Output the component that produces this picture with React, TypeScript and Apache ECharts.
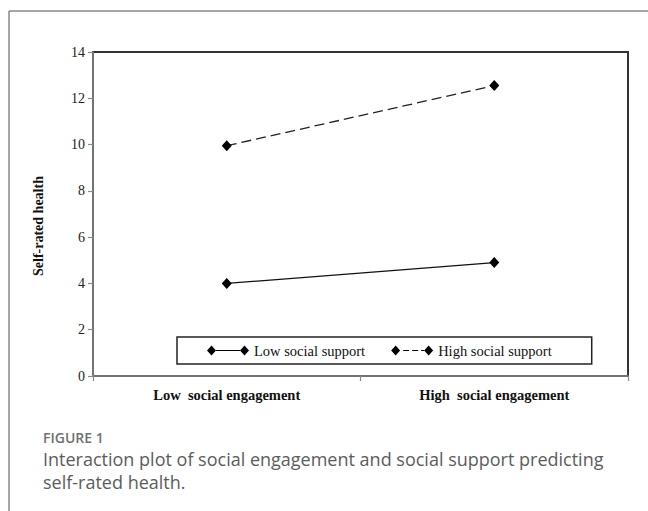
import React, { useEffect, useRef } from "react";
import * as echarts from "echarts";

const categories = ["Low  social engagement", "High  social engagement"];
const lowSupport = [4.0, 4.9];
const highSupport = [9.95, 12.55];
const yTicks = { min: 0, max: 14, interval: 2 };
const seriesNames = ["Low social support", "High social support"];
const yAxisTitle = "Self-rated health";
const figureLabel = "FIGURE 1";
const captionLines = [
  "Interaction plot of social engagement and social support predicting",
  "self-rated health.",
];

const SERIF = "'Liberation Serif', 'Times New Roman', serif";
const SANS = "'Open Sans', 'Noto Sans', sans-serif";

const solidIcon =
  "path://M0 5L4.5 0L9 5L4.5 10Z M33 5L37.5 0L42 5L37.5 10Z M9 4.4H33V5.6H9Z";
const dashedIcon =
  "path://M0 5L4.5 0L9 5L4.5 10Z M33 5L37.5 0L42 5L37.5 10Z M12 4.4H18V5.6H12Z M21 4.4H27V5.6H21Z M30 4.4H33V5.6H30Z";

export default function App() {
  const ref = useRef<HTMLDivElement>(null);
  useEffect(() => {
    if (!ref.current) return;
    const chart = echarts.init(ref.current, undefined, { renderer: "svg" });
    chart.setOption({
      animation: false,
      backgroundColor: "#ffffff",
      grid: {
        left: 93,
        right: 20,
        top: 52,
        bottom: 135,
        show: true,
        borderColor: "#333",
        borderWidth: 2,
        backgroundColor: "transparent",
      },
      legend: {
        left: 177,
        top: 337,
        orient: "horizontal",
        itemWidth: 42,
        itemHeight: 10,
        itemGap: 26,
        padding: [6, 40, 6, 30],
        borderColor: "#222",
        borderWidth: 1.5,
        borderRadius: 0,
        selectedMode: false,
        itemStyle: { color: "#000", borderWidth: 0 },
        textStyle: { fontFamily: SERIF, fontSize: 14.5, color: "#111" },
        data: [
          { name: seriesNames[0], icon: solidIcon },
          { name: seriesNames[1], icon: dashedIcon },
        ],
      },
      xAxis: {
        type: "category",
        data: categories,
        boundaryGap: true,
        axisLine: { show: true, lineStyle: { color: "#8a8a8a", width: 1.5 } },
        axisTick: { show: true, length: 5, inside: false, lineStyle: { color: "#8a8a8a", width: 1.2 } },
        axisLabel: {
          fontFamily: SERIF,
          fontSize: 14.5,
          fontWeight: "bold",
          color: "#111",
          margin: 11,
        },
        splitLine: { show: false },
      },
      yAxis: {
        type: "value",
        min: yTicks.min,
        max: yTicks.max,
        interval: yTicks.interval,
        axisLine: { show: true, lineStyle: { color: "#8a8a8a", width: 1.5 } },
        axisTick: { show: true, length: 5, inside: false, lineStyle: { color: "#8a8a8a", width: 1.2 } },
        axisLabel: { fontFamily: SERIF, fontSize: 14, color: "#222", margin: 8 },
        splitLine: { show: false },
      },
      series: [
        {
          name: seriesNames[0],
          type: "line",
          data: lowSupport,
          symbol: "diamond",
          symbolSize: [10, 11],
          itemStyle: { color: "#000" },
          lineStyle: { color: "#111", width: 1.3, type: "solid" },
          z: 3,
        },
        {
          name: seriesNames[1],
          type: "line",
          data: highSupport,
          symbol: "diamond",
          symbolSize: [10, 11],
          itemStyle: { color: "#000" },
          lineStyle: { color: "#222", width: 1.3, type: [10, 5] },
          z: 3,
        },
      ],
      graphic: [
        {
          type: "line",
          shape: { x1: 9, y1: 11, x2: 648, y2: 11 },
          style: { stroke: "#888", lineWidth: 1.5 },
          silent: true,
        },
        {
          type: "line",
          shape: { x1: 9, y1: 11, x2: 9, y2: 511 },
          style: { stroke: "#888", lineWidth: 1.5 },
          silent: true,
        },
        {
          type: "text",
          x: 38,
          y: 226,
          rotation: Math.PI / 2,
          style: {
            text: yAxisTitle,
            fontFamily: SERIF,
            fontSize: 14,
            fontWeight: "bold",
            fill: "#111",
            align: "center",
            verticalAlign: "middle",
          },
        },
        {
          type: "text",
          x: 43,
          y: 437,
          style: {
            text: figureLabel,
            fontFamily: SANS,
            fontSize: 14,
            fontWeight: 600,
            fill: "#707070",
            align: "left",
            verticalAlign: "middle",
          },
        },
        {
          type: "text",
          x: 43,
          y: 459,
          style: {
            text: captionLines[0],
            fontFamily: SANS,
            fontSize: 18,
            fill: "#5c5c5c",
            align: "left",
            verticalAlign: "middle",
          },
        },
        {
          type: "text",
          x: 43,
          y: 482,
          style: {
            text: captionLines[1],
            fontFamily: SANS,
            fontSize: 18,
            fill: "#5c5c5c",
            align: "left",
            verticalAlign: "middle",
          },
        },
      ],
    });
    return () => chart.dispose();
  }, []);
  return (
    <div
      ref={ref}
      style={{ position: "fixed", left: 0, top: 0, width: 648, height: 511 }}
    />
  );
}
